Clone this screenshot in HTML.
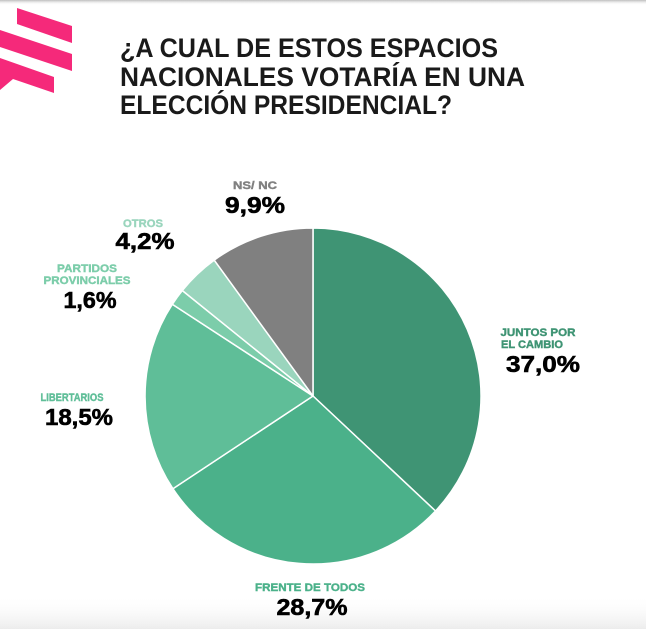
<!DOCTYPE html>
<html><head><meta charset="utf-8"><style>
html,body{margin:0;padding:0;background:#fff;}
svg{display:block;}
text{font-family:"Liberation Sans",sans-serif;}
</style></head><body>
<svg width="646" height="629" viewBox="0 0 646 629" xmlns="http://www.w3.org/2000/svg">
<defs>
<linearGradient id="gt" x1="0" y1="0" x2="0" y2="1"><stop offset="0" stop-color="#bdbdbd"/><stop offset="1" stop-color="#fff" stop-opacity="0"/></linearGradient>
<linearGradient id="gb" x1="0" y1="0" x2="0" y2="1"><stop offset="0" stop-color="#fff" stop-opacity="0"/><stop offset="1" stop-color="#ececec"/></linearGradient>
</defs>
<rect width="646" height="629" fill="#fff"/>
<rect x="0" y="0" width="646" height="5" fill="url(#gt)"/>
<rect x="0" y="595" width="646" height="34" fill="url(#gb)"/>
<g fill="#f5297a">
<polygon points="17,8 72,26 72,43 17,24"/>
<polygon points="0,30 72,54 72,71 0,47"/>
<polygon points="0,58 54,77 54,93 13,79 0,90"/>
</g>
<g fill="#1a1a1a" font-size="27" font-weight="bold">
<text x="120" y="57" textLength="378" lengthAdjust="spacingAndGlyphs">¿A CUAL DE ESTOS ESPACIOS</text>
<text x="120" y="86" textLength="405" lengthAdjust="spacingAndGlyphs">NACIONALES VOTARÍA EN UNA</text>
<text x="120" y="114" textLength="332" lengthAdjust="spacingAndGlyphs">ELECCIÓN PRESIDENCIAL?</text>
</g>
<g stroke="#fff" stroke-width="1.5" stroke-linejoin="round">
<path d="M313,396 L313,228 A168,168 0 0 1 435.5,511 Z" fill="#3f9474"/>
<path d="M313,396 L435.5,511 A168,168 0 0 1 172.9,488.7 Z" fill="#4bb18a"/>
<path d="M313,396 L172.9,488.7 A168,168 0 0 1 172.3,304.3 Z" fill="#5fbe98"/>
<path d="M313,396 L172.3,304.3 A168,168 0 0 1 182.3,290.5 Z" fill="#7ccdaa"/>
<path d="M313,396 L182.3,290.5 A168,168 0 0 1 214.2,260.1 Z" fill="#9ad5bd"/>
<path d="M313,396 L214.2,260.1 A168,168 0 0 1 313,228 Z" fill="#808080"/>
</g>
<g font-weight="bold" text-anchor="middle">
<g font-size="11" stroke-width="0.4">
<text x="255" y="189" fill="#808080" stroke="#808080" textLength="44" lengthAdjust="spacingAndGlyphs">NS/ NC</text>
<text x="143" y="227" fill="#9ad5bd" stroke="#9ad5bd" textLength="40" lengthAdjust="spacingAndGlyphs">OTROS</text>
<text x="87" y="272" fill="#7ccdaa" stroke="#7ccdaa" textLength="60" lengthAdjust="spacingAndGlyphs">PARTIDOS</text>
<text x="87" y="284" fill="#7ccdaa" stroke="#7ccdaa" textLength="87" lengthAdjust="spacingAndGlyphs">PROVINCIALES</text>
<text x="72" y="401" fill="#5fbe98" stroke="#5fbe98" textLength="63" lengthAdjust="spacingAndGlyphs">LIBERTARIOS</text>
<text x="538" y="336" fill="#3f9474" stroke="#3f9474" textLength="75" lengthAdjust="spacingAndGlyphs">JUNTOS POR</text>
<text x="532" y="348" fill="#3f9474" stroke="#3f9474" textLength="62" lengthAdjust="spacingAndGlyphs">EL CAMBIO</text>
<text x="310" y="591" fill="#4bb18a" stroke="#4bb18a" textLength="110" lengthAdjust="spacingAndGlyphs">FRENTE DE TODOS</text>
</g>
<g font-size="23" fill="#000" stroke="#000" stroke-width="0.6">
<text x="255" y="213" textLength="60" lengthAdjust="spacingAndGlyphs">9,9%</text>
<text x="145" y="249" textLength="59" lengthAdjust="spacingAndGlyphs">4,2%</text>
<text x="90" y="308" textLength="53" lengthAdjust="spacingAndGlyphs">1,6%</text>
<text x="79" y="425" textLength="68" lengthAdjust="spacingAndGlyphs">18,5%</text>
<text x="543" y="372" textLength="74" lengthAdjust="spacingAndGlyphs">37,0%</text>
<text x="312" y="615" textLength="71" lengthAdjust="spacingAndGlyphs">28,7%</text>
</g>
</g>
</svg>
</body></html>
